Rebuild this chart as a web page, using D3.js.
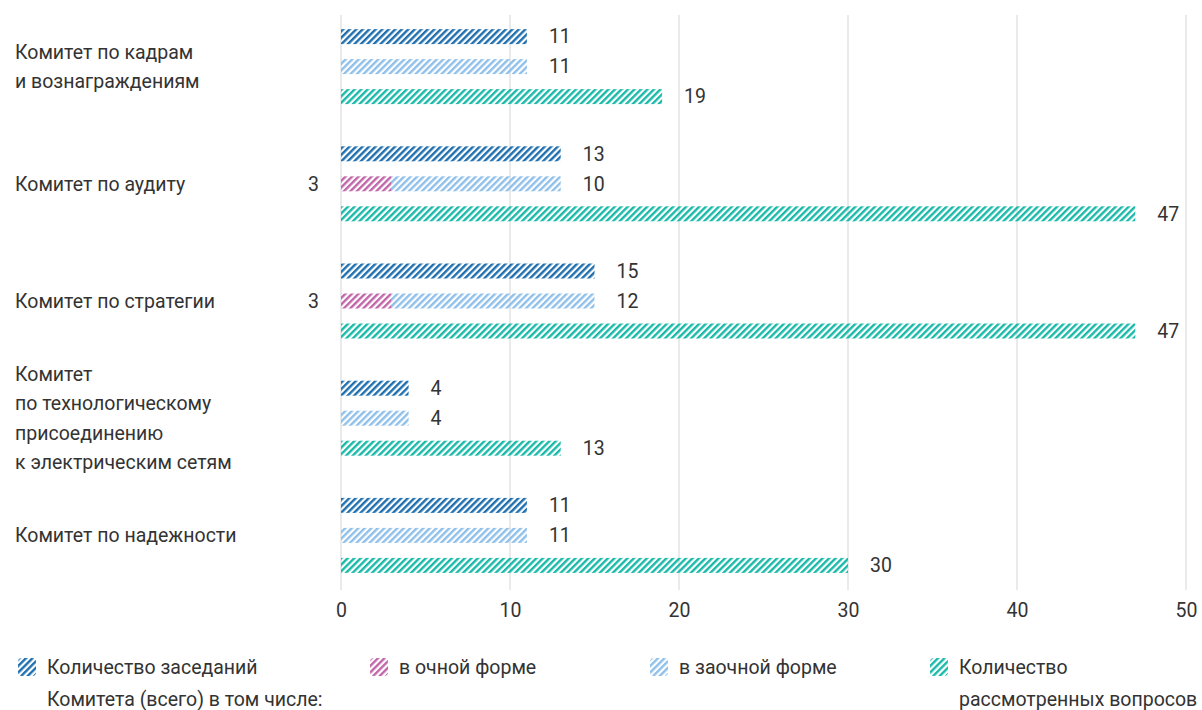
<!DOCTYPE html>
<html><head><meta charset="utf-8">
<script src="https://cdn.jsdelivr.net/npm/d3@7"></script>
<style>
body{margin:0;background:#fff;}
svg text{font-family:Roboto,"Noto Sans",sans-serif;fill:#333;}
</style></head><body>
<svg id="chart" width="1202" height="710"></svg>
<script>
const categories = [
  ["Комитет по кадрам", "и вознаграждениям"],
  ["Комитет по аудиту"],
  ["Комитет по стратегии"],
  ["Комитет", "по технологическому", "присоединению", "к электрическим сетям"],
  ["Комитет по надежности"]
];
const totalMeetings = [11, 13, 15, 4, 11];
const inPerson = [0, 3, 3, 0, 0];
const inAbsentia = [11, 10, 12, 4, 11];
const questions = [19, 47, 47, 13, 30];
const xTicks = [0, 10, 20, 30, 40, 50];
const legendItems = [
  {key: "total", lines: ["Количество заседаний", "Комитета (всего) в том числе:"]},
  {key: "inPerson", lines: ["в очной форме"]},
  {key: "absentia", lines: ["в заочной форме"]},
  {key: "questions", lines: ["Количество", "рассмотренных вопросов"]}
];
const colors = {total: "#1f6fae", inPerson: "#c066a8", absentia: "#8fc0ea", questions: "#19b9a9"};
const FS = 19.5;

const svg = d3.select("#chart");
const defs = svg.append("defs");
Object.entries(colors).forEach(([k, c]) => {
  const p = defs.append("pattern").attr("id", "hatch-" + k)
    .attr("patternUnits", "userSpaceOnUse").attr("width", 4.6).attr("height", 4.6)
    .attr("patternTransform", "rotate(45)");
  p.append("rect").attr("x", 0).attr("y", 0).attr("width", 2.4).attr("height", 4.6).attr("fill", c);
});

const x = d3.scaleLinear().domain([0, 50]).range([341, 1186]);
const idx = d3.range(categories.length);
const y = d3.scaleBand().domain(idx).range([8, 594]).paddingInner(0).paddingOuter(0);
const rows = ["total", "absentia", "questions"];
const yIn = d3.scaleBand().domain(rows).range([0, 90]).paddingInner(0.5).paddingOuter(0.25);

// gridlines
svg.append("g").selectAll("line").data(xTicks).join("line")
  .attr("x1", d => x(d)).attr("x2", d => x(d))
  .attr("y1", 15).attr("y2", 590)
  .attr("stroke", "#e3e3e3").attr("stroke-width", 1.5);

// axis labels
const axis = d3.axisBottom(x).tickValues(xTicks).tickSize(0).tickPadding(0);
const ag = svg.append("g").attr("transform", "translate(0,598)").call(axis);
ag.select(".domain").remove();
ag.selectAll("text").attr("font-size", FS).attr("dy", "0.95em")
  .style("font-family", 'Roboto,"Noto Sans",sans-serif').attr("fill", "#333");

const groupOff = i => y(i) + (y.bandwidth() - 90) / 2;

const g = svg.append("g");
idx.forEach(i => {
  const base = groupOff(i);
  const h = yIn.bandwidth();
  g.append("rect").attr("x", x(0)).attr("y", base + yIn("total")).attr("width", x(totalMeetings[i]) - x(0)).attr("height", h).attr("fill", "url(#hatch-total)");
  g.append("text").attr("x", x(totalMeetings[i]) + 22).attr("y", base + yIn("total") + h / 2).attr("dy", "0.35em").attr("font-size", FS).text(totalMeetings[i]);
  if (inPerson[i] > 0) {
    g.append("rect").attr("x", x(0)).attr("y", base + yIn("absentia")).attr("width", x(inPerson[i]) - x(0)).attr("height", h).attr("fill", "url(#hatch-inPerson)");
    g.append("text").attr("x", x(0) - 22).attr("y", base + yIn("absentia") + h / 2).attr("dy", "0.35em").attr("text-anchor", "end").attr("font-size", FS).text(inPerson[i]);
  }
  g.append("rect").attr("x", x(inPerson[i])).attr("y", base + yIn("absentia")).attr("width", x(inPerson[i] + inAbsentia[i]) - x(inPerson[i])).attr("height", h).attr("fill", "url(#hatch-absentia)");
  g.append("text").attr("x", x(inPerson[i] + inAbsentia[i]) + 22).attr("y", base + yIn("absentia") + h / 2).attr("dy", "0.35em").attr("font-size", FS).text(inAbsentia[i]);
  g.append("rect").attr("x", x(0)).attr("y", base + yIn("questions")).attr("width", x(questions[i]) - x(0)).attr("height", h).attr("fill", "url(#hatch-questions)");
  g.append("text").attr("x", x(questions[i]) + 22).attr("y", base + yIn("questions") + h / 2).attr("dy", "0.35em").attr("font-size", FS).text(questions[i]);
  const lines = categories[i];
  const cy = base + 45;
  const lh = 29.5;
  const t = g.append("text").attr("x", 15).attr("font-size", FS);
  lines.forEach((l, j) => {
    t.append("tspan").attr("x", 15).attr("y", cy + (j - (lines.length - 1) / 2) * lh).attr("dy", "0.35em").text(l);
  });
});

// legend
const lx = [18, 370, 650, 930];
legendItems.forEach((it, k) => {
  const lg = svg.append("g").attr("transform", `translate(${lx[k]},658)`);
  lg.append("rect").attr("width", 18).attr("height", 18).attr("fill", `url(#hatch-${it.key})`).attr("rx", 4);
  const t = lg.append("text").attr("font-size", FS);
  it.lines.forEach((l, j) => t.append("tspan").attr("x", 29).attr("y", 9 + j * 32).attr("dy", "0.35em").text(l));
});
</script></body></html>
